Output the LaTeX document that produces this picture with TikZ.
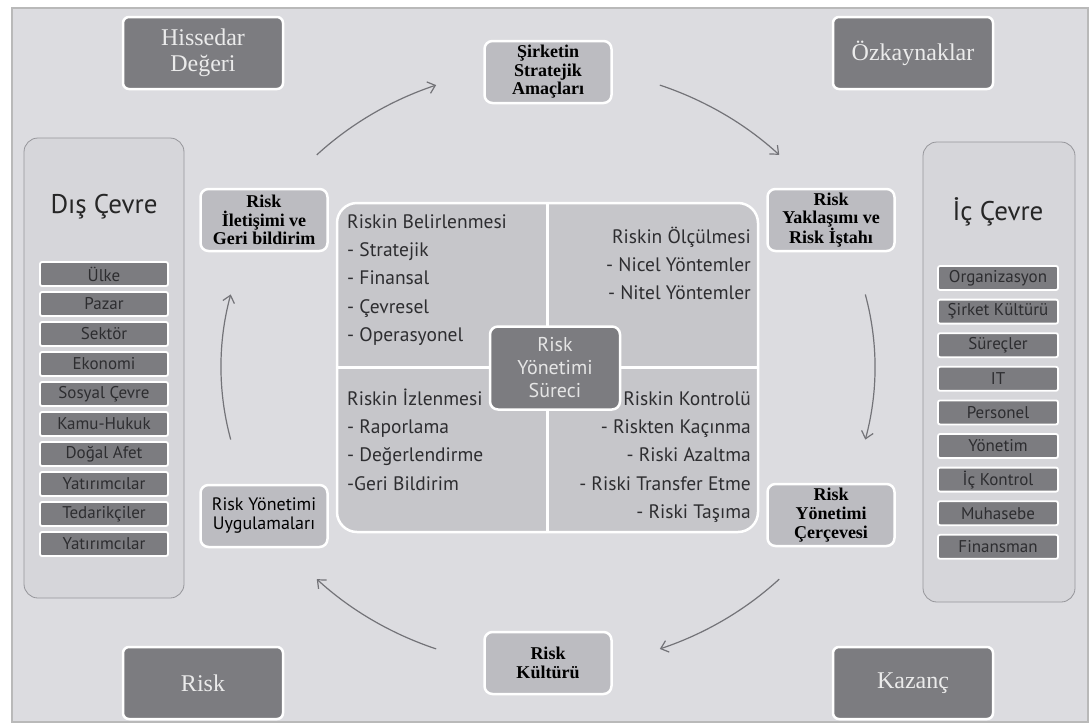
\documentclass[tikz,border=0pt]{standalone}
\usepackage{fontspec}
\setmainfont{PT Sans}
\newfontfamily\timesfont{Liberation Serif}
\usetikzlibrary{calc,arrows.meta}

\definecolor{bgcol}{RGB}{220,220,224}
\definecolor{darkbox}{RGB}{124,124,128}
\definecolor{midbox}{RGB}{188,188,193}
\definecolor{quadcol}{RGB}{198,198,202}
\definecolor{panelcol}{RGB}{214,214,218}
\definecolor{panelline}{RGB}{150,150,155}
\definecolor{txtcol}{RGB}{45,45,48}
\definecolor{arrcol}{RGB}{115,115,120}

\begin{document}
\begin{tikzpicture}[x=1pt, y=-1pt,
  every text node part/.style={align=center},
  bigbox/.style={draw=white, line width=2.5pt, fill=darkbox, rounded corners=6pt, minimum width=160pt, minimum height=72pt, text=white!92!black, font=\timesfont\fontsize{24}{26}\selectfont},
  cyclebox/.style={draw=white, line width=2.5pt, fill=midbox, rounded corners=8pt, minimum width=127pt, minimum height=62pt, inner sep=1pt, font=\timesfont\bfseries\fontsize{18}{18.6}\selectfont},
  panel/.style={draw=panelline, line width=0.8pt, fill=panelcol, rounded corners=14pt},
  itembox/.style={draw=white, line width=1.8pt, fill=darkbox, rounded corners=2pt, minimum height=24pt, inner sep=0pt, text=txtcol, font=\fontsize{17}{17}\selectfont},
  quadtext/.style={inner sep=0pt, text=txtcol, font=\fontsize{19.5}{20}\selectfont},
  cyclearrow/.style={draw=arrcol, line width=1.2pt, -{Straight Barb[length=7pt, width=12pt]}}
]

  % Frame
  \useasboundingbox (0,0) rectangle (1091,726);
  \fill[white] (0,0) rectangle (1091,726);
  \draw[fill=bgcol, draw=gray!55, line width=1.5pt] (12,8) rectangle (1088,722);

  % Corner boxes
  \node[bigbox] (hissedar) at (203,53) {Hissedar\\Değeri};
  \node[bigbox] (ozkaynak) at (913,53) {Özkaynaklar};
  \node[bigbox] (risk) at (203,683) {Risk};
  \node[bigbox] (kazanc) at (913,683) {Kazanç};

  % Side panels
  \node[panel, minimum width=160pt, minimum height=460pt] (dis) at (104,368) {};
  \node[panel, minimum width=152pt, minimum height=460pt] (ic) at (999,372) {};
  \node[font=\fontsize{27}{28}\selectfont, text=black!85] (distitle) at (104,207) {Dış Çevre};
  \node[font=\fontsize{27}{28}\selectfont, text=black!85] (ictitle) at (998,212) {İç Çevre};

  \foreach \t [count=\i from 0] in {Ülke, Pazar, Sektör, Ekonomi, Sosyal Çevre, Kamu-Hukuk, Doğal Afet, Yatırımcılar, Tedarikçiler, Yatırımcılar}
    \node[itembox, minimum width=128pt] (dis\i) at (104,274+30*\i) {\t};
  \foreach \t [count=\i from 0] in {Organizasyon, Şirket Kültürü, Süreçler, IT, Personel, Yönetim, İç Kontrol, Muhasebe, Finansman}
    \node[itembox, minimum width=120pt] (ic\i) at (998,278+33.6*\i) {\t};

  % Process block
  \node[draw=white, line width=2.5pt, fill=quadcol, rounded corners=20pt, minimum width=421pt, minimum height=329pt] (surec) at (547.5,367.5) {};
  \draw[white, line width=3pt] (surec.north) -- (surec.south);
  \draw[white, line width=3pt] (surec.west) -- (surec.east);

  \foreach \t [count=\i from 0] in {Riskin Belirlenmesi, - Stratejik, - Finansal, - Çevresel, - Operasyonel}
    \node[quadtext, anchor=base west] (belir\i) at (347,228+28.4*\i) {\t};
  \foreach \t [count=\i from 0] in {Riskin Ölçülmesi, - Nicel Yöntemler, - Nitel Yöntemler}
    \node[quadtext, anchor=base east] (olcum\i) at (751,243+28*\i) {\t};
  \foreach \t [count=\i from 0] in {Riskin İzlenmesi, - Raporlama, - Değerlendirme, -Geri Bildirim}
    \node[quadtext, anchor=base west] (izle\i) at (347,405+28.4*\i) {\t};
  \foreach \t [count=\i from 0] in {Riskin Kontrolü, - Riskten Kaçınma, - Riski Azaltma, - Riski Transfer Etme, - Riski Taşıma}
    \node[quadtext, anchor=base east] (kontrol\i) at (751,405+28.4*\i) {\t};

  \node[draw=white, line width=2.5pt, fill=darkbox, rounded corners=8pt, minimum width=130pt, minimum height=83pt, text=white!90!black, font=\fontsize{20}{23}\selectfont] (kern) at (555,368) {Risk\\Yönetimi\\Süreci};

  % Cycle
  \node[cyclebox] (amac) at (548,72) {Şirketin\\Stratejik\\Amaçları};
  \node[cyclebox] (yaklasim) at (831,220) {Risk\\Yaklaşımı ve\\Risk İştahı};
  \node[cyclebox] (cerceve) at (831,515) {Risk\\Yönetimi\\Çerçevesi};
  \node[cyclebox] (kultur) at (548,663) {Risk\\Kültürü};
  \node[cyclebox, font=\fontsize{18}{19}\selectfont] (uygulama) at (264,516) {Risk Yönetimi\\Uygulamaları};
  \node[cyclebox] (iletisim) at (264,220) {Risk\\İletişimi ve\\Geri bildirim};

  \coordinate (mid) at (548,367);
  \foreach \a/\b [count=\i] in {-135/-110, -70/-45, -14/14, 45/70, 110/135, 166/194} {
    \coordinate (arr\i) at ($(mid)+(\a:327 and 300)$);
    \draw[cyclearrow] (arr\i) arc[start angle=\a, end angle=\b, x radius=327, y radius=300];
  }

\end{tikzpicture}
\end{document}
